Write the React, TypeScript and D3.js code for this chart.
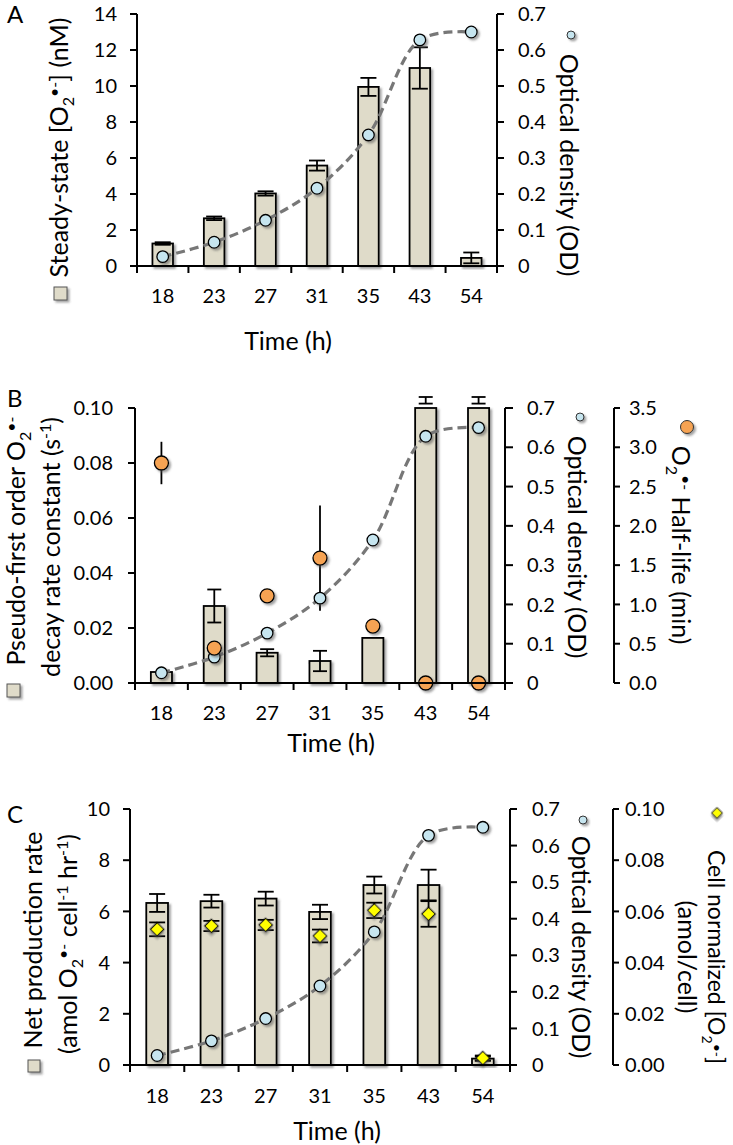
import React from 'react'
import * as d3 from 'd3'

// time points (h)
const times = ['18', '23', '27', '31', '35', '43', '54']

// optical density, shared by all three panels
const opticalDensity = [0.026, 0.066, 0.127, 0.216, 0.364, 0.628, 0.65]

// panel A
const steadyState = [1.25, 2.65, 4.03, 5.58, 9.95, 11.0, 0.45]
const steadyStateErr = [0.07, 0.1, 0.12, 0.28, 0.5, 1.15, 0.3]

// panel B
const decayK = [0.004, 0.028, 0.011, 0.008, 0.0164, 0.1, 0.1]
const decayKErr = [0, 0.006, 0.0013, 0.0037, 0, 0, 0]
const decayKRaw = [0, 0, 0, 0, 0, 0.1028, 0.1028] // values above axis max
const decayKRawErr = [0, 0, 0, 0, 0, 0.0012, 0.0012]
const halfLife = [2.8, 0.445, 1.11, 1.59, 0.725, 0, 0]
const halfLifeErr = [0.27, 0, 0.05, 0.67, 0, 0, 0]

// panel C
const netRate = [6.33, 6.4, 6.5, 5.98, 7.03, 7.03, 0.25]
const netRateErr = [0.35, 0.25, 0.27, 0.28, 0.33, 0.6, 0.08]
const cellNorm = [0.053, 0.0543, 0.0547, 0.0504, 0.0604, 0.059, 0.0027]
const cellNormErr = [0.0027, 0.002, 0.002, 0.0025, 0.003, 0.005, 0.001]

// tick labels
const ticksA = [0, 2, 4, 6, 8, 10, 12, 14]
const ticksOD = [0, 0.1, 0.2, 0.3, 0.4, 0.5, 0.6, 0.7]
const ticksK = [0, 0.02, 0.04, 0.06, 0.08, 0.1]
const ticksHalf = [0, 0.5, 1, 1.5, 2, 2.5, 3, 3.5]
const ticksNet = [0, 2, 4, 6, 8, 10]
const ticksCell = [0, 0.02, 0.04, 0.06, 0.08, 0.1]

const FONT = 'Lato, "Open Sans", sans-serif'
const BAR_FILL = '#dfdbc9'
const OD_FILL = '#c6e5ef'
const HALF_FILL = '#f6a353'
const CELL_FILL = '#ffff00'
const DASH = '#777777'
const TICK_FS = 20
const TITLE_FS = 25
const SMALL_FS = 16

type Lin = d3.ScaleLinear<number, number>
type Band = d3.ScaleBand<string>

const fmtInt = (v: number) => d3.format('d')(v)
const fmtOD = (v: number) => (v === 0 ? '0' : d3.format('.1f')(v))
const fmt2 = d3.format('.2f')
const fmt1 = d3.format('.1f')

const makeX = (r0: number, r1: number) =>
  d3.scaleBand<string>().domain(times).range([r0, r1]).paddingInner(0.6).paddingOuter(0.3)
const cx = (x: Band, t: string) => (x(t) || 0) + x.bandwidth() / 2

function VAxis({ x, scale, ticks, fmt, side, gap, tick = 7 }: {
  x: number; scale: Lin; ticks: number[]; fmt: (v: number) => string; side: -1 | 1; gap: number; tick?: number
}) {
  return (
    <g>
      <line x1={x} x2={x} y1={scale(ticks[0])} y2={scale(ticks[ticks.length - 1])} stroke="#000" strokeWidth={2} />
      {ticks.map((t) => (
        <g key={t}>
          <line x1={x} x2={x + side * tick} y1={scale(t)} y2={scale(t)} stroke="#000" strokeWidth={2} />
          <text x={x + side * gap} y={scale(t)} dy="0.36em" textAnchor={side < 0 ? 'end' : 'start'} fontSize={TICK_FS}>
            {fmt(t)}
          </text>
        </g>
      ))}
    </g>
  )
}

function XAxis({ x, y, labelY, titleX, titleY }: { x: Band; y: number; labelY: number; titleX: number; titleY: number }) {
  const [r0, r1] = x.range()
  const bounds = d3.range(times.length + 1).map((i) => r0 + i * x.step())
  return (
    <g>
      <line x1={r0} x2={r1} y1={y} y2={y} stroke="#000" strokeWidth={2} />
      {bounds.map((b, i) => (
        <line key={i} x1={b} x2={b} y1={y} y2={y + 7} stroke="#000" strokeWidth={2} />
      ))}
      {times.map((t) => (
        <text key={t} x={cx(x, t)} y={labelY} textAnchor="middle" fontSize={TICK_FS}>{t}</text>
      ))}
      <text x={titleX} y={titleY} textAnchor="middle" fontSize={TITLE_FS}>Time (h)</text>
    </g>
  )
}

function Bars({ x, y, values }: { x: Band; y: Lin; values: number[] }) {
  return (
    <g>
      {times.map((t, i) => (
        <rect key={t} x={x(t)} width={x.bandwidth()} y={y(values[i])} height={y(0) - y(values[i])}
          fill={BAR_FILL} stroke="#000" strokeWidth={1.8} filter="url(#shadow)" />
      ))}
    </g>
  )
}

function ErrBars({ x, y, values, errs, cap = 8 }: { x: Band; y: Lin; values: number[]; errs: number[]; cap?: number }) {
  return (
    <g stroke="#000" strokeWidth={1.8}>
      {times.map((t, i) => {
        if (!errs[i]) return null
        const c = cx(x, t)
        const hi = y(values[i] + errs[i])
        const lo = y(values[i] - errs[i])
        return (
          <g key={t}>
            <line x1={c} x2={c} y1={hi} y2={lo} />
            {cap > 0 && <line x1={c - cap} x2={c + cap} y1={hi} y2={hi} />}
            {cap > 0 && <line x1={c - cap} x2={c + cap} y1={lo} y2={lo} />}
          </g>
        )
      })}
    </g>
  )
}

function ODCurve({ x, y }: { x: Band; y: Lin }) {
  const line = d3.line<number>()
    .x((_, i) => cx(x, times[i]))
    .y((d) => y(d))
    .curve(d3.curveCatmullRom.alpha(0.5))
  return (
    <path d={line(opticalDensity) || ''} fill="none" stroke={DASH} strokeWidth={3.2} strokeDasharray="9,5" />
  )
}

function ODDots({ x, y, r = 5.8 }: { x: Band; y: Lin; r?: number }) {
  return (
    <g>
      {times.map((t, i) => (
        <circle key={t} cx={cx(x, t)} cy={y(opticalDensity[i])} r={r} fill={OD_FILL} stroke="#000" strokeWidth={1.3} filter="url(#shadow)" />
      ))}
    </g>
  )
}

const diamond = d3.symbol().type(d3.symbolSquare).size(90)()

const sub = (s: string, k: string, up = 14, fs = SMALL_FS) => (
  <>
    <tspan dy={6} fontSize={fs}>{s}</tspan>
    <tspan dy={-up} fontSize={fs}>{k}</tspan>
  </>
)

export default function App() {
  // ---------- panel A ----------
  const xA = makeX(137, 497)
  const yA = d3.scaleLinear().domain([0, 14]).range([266, 14])
  const odA = d3.scaleLinear().domain([0, 0.7]).range([266, 14])

  // ---------- panel B ----------
  const xB = makeX(135, 505)
  const yB = d3.scaleLinear().domain([0, 0.1]).range([683, 408])
  const odB = d3.scaleLinear().domain([0, 0.7]).range([683, 408])
  const hlB = d3.scaleLinear().domain([0, 3.5]).range([683, 408])

  // ---------- panel C ----------
  const xC = makeX(130, 510)
  const yC = d3.scaleLinear().domain([0, 10]).range([1065, 809])
  const odC = d3.scaleLinear().domain([0, 0.7]).range([1065, 809])
  const cellC = d3.scaleLinear().domain([0, 0.1]).range([1065, 809])

  return (
    <svg width={733} height={1145} style={{ position: 'absolute', left: 0, top: 0, background: '#fff' }}
      fontFamily={FONT} fill="#000">
      <defs>
        <filter id="shadow" x="-30%" y="-30%" width="170%" height="170%">
          <feDropShadow dx={2} dy={2} stdDeviation={1.3} floodColor="#555" floodOpacity={0.55} />
        </filter>
      </defs>

      {/* ================= A ================= */}
      <text x={7} y={23} fontSize={24}>A</text>
      <Bars x={xA} y={yA} values={steadyState} />
      <ErrBars x={xA} y={yA} values={steadyState} errs={steadyStateErr} />
      <ODCurve x={xA} y={odA} />
      <ODDots x={xA} y={odA} />
      <VAxis x={137} scale={yA} ticks={ticksA} fmt={fmtInt} side={-1} gap={20} />
      <VAxis x={497} scale={odA} ticks={ticksOD} fmt={fmtOD} side={1} gap={21} />
      <XAxis x={xA} y={266} labelY={303} titleX={288} titleY={350} />
      <text transform="translate(68,147.5) rotate(-90)" textAnchor="middle" fontSize={TITLE_FS}>
        Steady-state [O{sub('2', '•-')}<tspan dy={8}>] (nM)</tspan>
      </text>
      <rect x={54} y={287} width={13} height={13} fill={BAR_FILL} stroke="#555" strokeWidth={1} filter="url(#shadow)" />
      <text transform="translate(560,165) rotate(90)" textAnchor="middle" fontSize={TITLE_FS}>Optical density (OD)</text>
      <circle cx={571} cy={35} r={4} fill={OD_FILL} stroke="#333" strokeWidth={1} filter="url(#shadow)" />

      {/* ================= B ================= */}
      <text x={7} y={407} fontSize={24}>B</text>
      <Bars x={xB} y={yB} values={decayK} />
      <ErrBars x={xB} y={yB} values={decayK} errs={decayKErr} cap={7} />
      <ErrBars x={xB} y={yB} values={decayKRaw} errs={decayKRawErr} cap={7} />
      <ODCurve x={xB} y={odB} />
      <ErrBars x={xB} y={hlB} values={halfLife} errs={halfLifeErr} cap={0} />
      <ODDots x={xB} y={odB} />
      <g>
        {times.map((t, i) => (
          <circle key={t} cx={cx(xB, t)} cy={hlB(halfLife[i])} r={7} fill={HALF_FILL} stroke="#000" strokeWidth={1.3} filter="url(#shadow)" />
        ))}
      </g>
      <VAxis x={135} scale={yB} ticks={ticksK} fmt={fmt2} side={-1} gap={22} />
      <VAxis x={505} scale={odB} ticks={ticksOD} fmt={fmtOD} side={1} gap={22} tick={8} />
      <VAxis x={614} scale={hlB} ticks={ticksHalf} fmt={fmt1} side={1} gap={15} tick={6} />
      <XAxis x={xB} y={683} labelY={720} titleX={331} titleY={752} />
      <text transform="translate(25,541) rotate(-90)" textAnchor="middle" fontSize={TITLE_FS}>
        Pseudo-first order O{sub('2', '•-')}
      </text>
      <text transform="translate(60,547) rotate(-90)" textAnchor="middle" fontSize={TITLE_FS}>
        decay rate constant (s<tspan dy={-9} fontSize={SMALL_FS}>-1</tspan><tspan dy={9}>)</tspan>
      </text>
      <rect x={7} y={684} width={13} height={13} fill={BAR_FILL} stroke="#555" strokeWidth={1} filter="url(#shadow)" />
      <text transform="translate(568,547) rotate(90)" textAnchor="middle" fontSize={TITLE_FS}>Optical density (OD)</text>
      <circle cx={580} cy={417} r={4} fill={OD_FILL} stroke="#333" strokeWidth={1} filter="url(#shadow)" />
      <text transform="translate(672,545) rotate(90)" textAnchor="middle" fontSize={TITLE_FS}>
        O{sub('2', '•-')}<tspan dy={8}> Half-life (min)</tspan>
      </text>
      <circle cx={687} cy={427} r={6.5} fill={HALF_FILL} stroke="#333" strokeWidth={1} filter="url(#shadow)" />

      {/* ================= C ================= */}
      <text x={7} y={823} fontSize={24}>C</text>
      <Bars x={xC} y={yC} values={netRate} />
      <ErrBars x={xC} y={yC} values={netRate} errs={netRateErr} />
      <ODCurve x={xC} y={odC} />
      <ODDots x={xC} y={odC} />
      <ErrBars x={xC} y={cellC} values={cellNorm} errs={cellNormErr} />
      <g>
        {times.map((t, i) => (
          <path key={t} d={diamond || ''} transform={`translate(${cx(xC, t)},${cellC(cellNorm[i])}) rotate(45)`}
            fill={CELL_FILL} stroke="#000" strokeWidth={1.2} filter="url(#shadow)" />
        ))}
      </g>
      <VAxis x={130} scale={yC} ticks={ticksNet} fmt={fmtInt} side={-1} gap={20} />
      <VAxis x={510} scale={odC} ticks={ticksOD} fmt={fmtOD} side={1} gap={22} />
      <VAxis x={613} scale={cellC} ticks={ticksCell} fmt={fmt2} side={1} gap={12} tick={6} />
      <XAxis x={xC} y={1065} labelY={1103} titleX={337} titleY={1140} />
      <text transform="translate(42,940) rotate(-90)" textAnchor="middle" fontSize={TITLE_FS}>Net production rate</text>
      <text transform="translate(77,944) rotate(-90)" textAnchor="middle" fontSize={TITLE_FS}>
        (amol O{sub('2', '•-')}<tspan dy={8}> cell</tspan><tspan dy={-9} fontSize={SMALL_FS}>-1</tspan>
        <tspan dy={9}> hr</tspan><tspan dy={-9} fontSize={SMALL_FS}>-1</tspan><tspan dy={9}>)</tspan>
      </text>
      <rect x={28} y={1060} width={12} height={12} fill={BAR_FILL} stroke="#555" strokeWidth={1} filter="url(#shadow)" />
      <text transform="translate(572,947) rotate(90)" textAnchor="middle" fontSize={TITLE_FS}>Optical density (OD)</text>
      <circle cx={583} cy={820} r={4} fill={OD_FILL} stroke="#333" strokeWidth={1} filter="url(#shadow)" />
      <text transform="translate(708,957) rotate(90)" textAnchor="middle" fontSize={23}>
        Cell normalized [O{sub('2', '•-', 10, 14)}<tspan dy={4}>]</tspan>
      </text>
      <text transform="translate(678,957) rotate(90)" textAnchor="middle" fontSize={TITLE_FS}>(amol/cell)</text>
      <path d={d3.symbol().type(d3.symbolSquare).size(60)() || ''} transform="translate(717,813) rotate(45)"
        fill={CELL_FILL} stroke="#333" strokeWidth={1} filter="url(#shadow)" />
    </svg>
  )
}
